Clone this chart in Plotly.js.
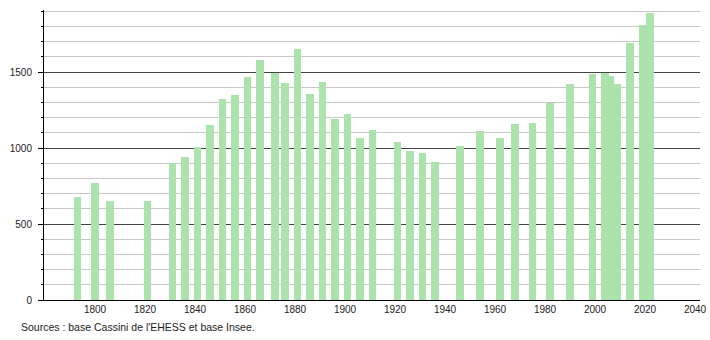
<!DOCTYPE html>
<html>
<head>
<meta charset="utf-8">
<script src="https://cdn.plot.ly/plotly-3.0.1.min.js"></script>
<style>
html,body{margin:0;padding:0;background:#fff;}
#chart{width:710px;height:340px;}
</style>
</head>
<body>
<div id="chart"></div>
<script>
const years = [1793,1800,1806,1821,1831,1836,1841,1846,1851,1856,1861,1866,1872,1876,1881,1886,1891,1896,1901,1906,1911,1921,1926,1931,1936,1946,1954,1962,1968,1975,1982,1990,1999,2004,2006,2009,2014,2019,2022];
const population = [676,767,651,651,899,943,1009,1151,1320,1349,1465,1579,1491,1425,1649,1353,1432,1189,1222,1064,1116,1042,982,965,910,1015,1114,1064,1158,1167,1298,1419,1487,1496,1474,1419,1689,1812,1890];
const xTicks = [1800,1820,1840,1860,1880,1900,1920,1940,1960,1980,2000,2020,2040];
const yTicks = [0,500,1000,1500];
const sourceText = "Sources : base Cassini de l'EHESS et base Insee.";

const trace = {
  type: 'bar',
  x: years,
  y: population,
  width: 3,
  marker: {color: 'rgb(172,226,172)', line: {width: 0}},
  hoverinfo: 'x+y'
};

const layout = {
  width: 710, height: 340,
  margin: {l: 44, r: 10, t: 10, b: 40},
  paper_bgcolor: '#fff', plot_bgcolor: '#fff',
  showlegend: false,
  bargap: 0,
  font: {family: 'Liberation Sans, Arial, sans-serif', size: 10, color: '#222'},
  xaxis: {
    range: [1779.6, 2042],
    tickvals: xTicks,
    ticktext: xTicks.map(String),
    showgrid: false,
    zeroline: false,
    showline: true, linecolor: '#000', linewidth: 1,
    ticks: '',
    fixedrange: true
  },
  yaxis: {
    range: [0, 1908],
    tickvals: yTicks,
    ticktext: yTicks.map(String),
    showgrid: true, gridcolor: '#444', gridwidth: 1,
    zeroline: false,
    showline: true, linecolor: '#000', linewidth: 1,
    ticks: 'outside', ticklen: 5, tickcolor: '#000',
    ticklabelstandoff: 4,
    minor: {dtick: 100, tick0: 0, showgrid: true, gridcolor: '#c8c8c8', gridwidth: 1, ticks: 'outside', ticklen: 2, tickcolor: '#000'},
    fixedrange: true
  },
  annotations: [{
    text: sourceText,
    xref: 'paper', yref: 'paper',
    x: -0.038, y: -0.093,
    xanchor: 'left', yanchor: 'middle',
    showarrow: false,
    font: {size: 10.5, color: '#222'}
  }]
};

Plotly.newPlot('chart', [trace], layout, {displayModeBar: false, staticPlot: true});
</script>
</body>
</html>
